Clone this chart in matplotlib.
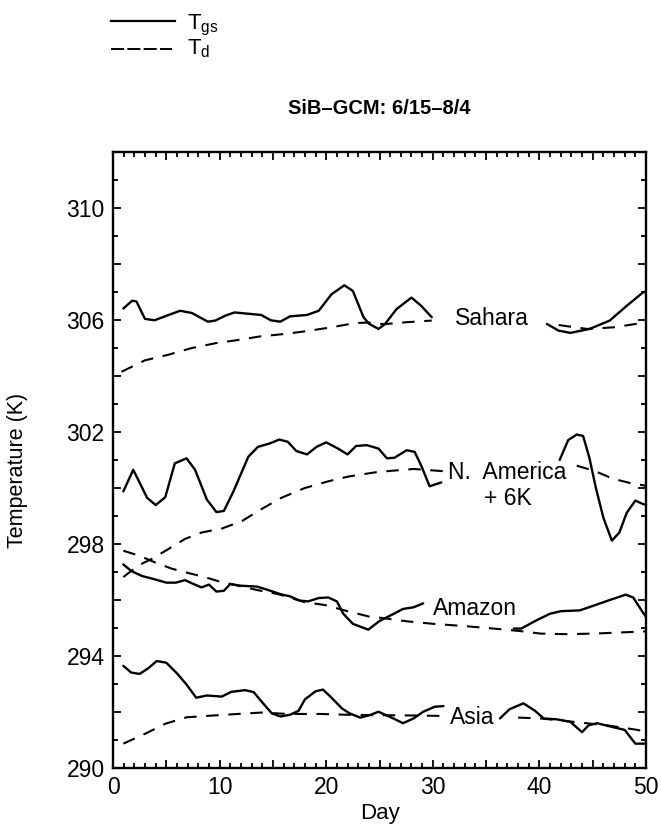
import numpy as np
import matplotlib
matplotlib.use("Agg")
import matplotlib.pyplot as plt
from matplotlib.lines import Line2D
from matplotlib.ticker import MultipleLocator, FuncFormatter

plt.rcParams['font.family'] = ['Liberation Sans', 'DejaVu Sans']
plt.rcParams['mathtext.fontset'] = 'custom'
plt.rcParams['mathtext.rm'] = 'Liberation Sans'

nan = np.nan

# Ground/surface temperature T_gs and deep soil temperature T_d (K) per region.
# nan splits a series into separate segments.
sahara_tgs_day = [0.97, 1.8, 2.2, 3.0, 3.9, 5.0, 6.3, 7.4, 8.9, 9.6, 10.5, 11.4, 13.9, 14.8,
                  15.7, 16.6, 18.2, 19.3, 20.5, 21.7, 22.5, 23.5, 24.0, 24.9, 25.5, 26.6,
                  28.0, 28.9, 29.9, nan, 40.7, 41.8, 42.9, 44.7, 46.6, 48.2, 49.7, 50.0]
sahara_tgs = [306.41, 306.69, 306.66, 306.04, 305.99, 306.15, 306.33, 306.25, 305.94, 305.98,
              306.15, 306.27, 306.18, 305.99, 305.94, 306.13, 306.18, 306.33, 306.92, 307.24,
              307.04, 306.10, 305.87, 305.68, 305.85, 306.39, 306.80, 306.51, 306.10, nan,
              305.86, 305.62, 305.54, 305.68, 305.98, 306.51, 306.98, 307.02]
sahara_td_day = [0.8, 3.0, 5.2, 7.4, 9.6, 11.8, 13.9, 16.1, 18.3, 20.5, 22.7, 24.0, 25.4,
                 27.5, 29.9, nan, 41.8, 44.5, 47.0, 49.4, 50.0]
sahara_td = [304.15, 304.56, 304.76, 305.00, 305.17, 305.29, 305.42, 305.50, 305.61, 305.74,
             305.89, 305.91, 305.85, 305.92, 305.98, nan, 305.82, 305.68, 305.74, 305.88, 305.92]

# N. America values are shifted up by 6 K
namer_tgs_day = [0.97, 1.9, 3.2, 4.0, 4.9, 5.8, 6.9, 7.7, 8.8, 9.7, 10.4, 11.3, 12.7, 13.6,
                 14.7, 15.6, 16.4, 17.2, 18.2, 19.1, 20.0, 21.1, 22.0, 22.8, 23.8, 24.9,
                 25.7, 26.4, 27.55, 28.3, 28.96, 29.7, 30.8, nan, 41.9, 42.7, 43.5, 44.1,
                 44.7, 45.3, 46.0, 46.8, 47.5, 48.2, 49.0, 49.7, 50.0]
namer_tgs = [299.88, 300.65, 299.65, 299.39, 299.67, 300.88, 301.06, 300.65, 299.59, 299.14,
             299.18, 299.88, 301.12, 301.47, 301.59, 301.73, 301.65, 301.32, 301.20, 301.47,
             301.63, 301.41, 301.20, 301.50, 301.53, 301.41, 301.06, 301.08, 301.35, 301.29,
             300.76, 300.06, 300.20, nan, 301.00, 301.71, 301.91, 301.86, 301.06, 300.00,
             298.94, 298.12, 298.41, 299.12, 299.55, 299.43, 299.40]
namer_td_day = [0.97, 2.4, 3.65, 5.2, 6.75, 8.3, 10.2, 12.1, 13.9, 15.8, 18.0, 20.2, 22.1,
                24.6, 26.0, 28.2, 31.0, nan, 43.5, 45.3, 46.9, 48.5, 50.0]
namer_td = [296.82, 297.24, 297.47, 297.82, 298.18, 298.41, 298.55, 298.82, 299.24, 299.65,
            300.00, 300.24, 300.41, 300.56, 300.61, 300.68, 300.60, nan, 300.80, 300.59,
            300.33, 300.18, 300.08]

amazon_tgs_day = [0.97, 1.7, 2.7, 3.9, 5.0, 5.9, 6.75, 7.5, 8.3, 9.0, 9.7, 10.4, 11.0, 12.0,
                  13.5, 14.6, 15.7, 16.6, 17.5, 18.3, 19.3, 20.2, 21.0, 21.6, 22.5, 23.95,
                  25.0, 26.3, 27.2, 28.2, 29.1, nan, 37.6, 38.3, 39.7, 41.0, 42.0, 43.8,
                  45.1, 46.6, 48.1, 48.8, 49.7, 50.0]
amazon_tgs = [297.27, 297.04, 296.86, 296.74, 296.62, 296.62, 296.71, 296.58, 296.45, 296.55,
              296.30, 296.33, 296.57, 296.51, 296.48, 296.35, 296.21, 296.13, 295.98, 295.95,
              296.07, 296.09, 295.95, 295.51, 295.15, 294.94, 295.25, 295.50, 295.68, 295.74,
              295.88, nan, 294.98, 294.98, 295.27, 295.51, 295.60, 295.63, 295.80, 296.00,
              296.19, 296.09, 295.56, 295.40]
amazon_td_day = [0.97, 2.4, 3.9, 5.5, 7.1, 8.6, 9.9, 13.6, 15.5, 18.0, 19.9, 21.8, 24.0, 25.0,
                 27.55, 30.0, 32.9, 35.7, 38.2, 40.1, 42.6, 45.1, 47.6, 50.0]
amazon_td = [297.76, 297.59, 297.35, 297.12, 296.96, 296.82, 296.67, 296.35, 296.21, 295.92,
             295.82, 295.62, 295.41, 295.37, 295.24, 295.15, 295.07, 294.98, 294.89, 294.80,
             294.78, 294.80, 294.84, 294.88]

asia_tgs_day = [0.97, 1.7, 2.5, 3.3, 4.1, 5.0, 6.0, 6.9, 7.8, 8.8, 10.2, 11.1, 12.4, 13.2,
                13.9, 14.9, 15.7, 16.6, 17.4, 18.0, 19.0, 19.7, 20.5, 21.5, 22.2, 23.2, 24.1,
                24.9, 26.3, 27.2, 28.2, 29.1, 30.2, 31.0, nan, 36.3, 37.2, 38.5, 39.6, 40.4,
                41.6, 42.9, 44.0, 44.6, 45.4, 46.9, 48.0, 49.0, 50.0]
asia_tgs = [293.65, 293.41, 293.36, 293.56, 293.82, 293.76, 293.38, 292.98, 292.51, 292.59,
            292.55, 292.72, 292.78, 292.71, 292.39, 291.95, 291.84, 291.90, 292.04, 292.45,
            292.74, 292.80, 292.51, 292.12, 291.95, 291.80, 291.89, 292.01, 291.77, 291.60,
            291.77, 292.01, 292.19, 292.21, nan, 291.77, 292.10, 292.31, 292.04, 291.77,
            291.74, 291.65, 291.28, 291.52, 291.60, 291.46, 291.36, 290.87, 290.87]
asia_td_day = [0.97, 3.0, 4.9, 6.9, 9.2, 11.7, 13.9, 16.4, 19.5, 22.0, 24.2, 27.0, 31.0, nan,
               38.0, 40.1, 43.9, 46.4, 49.2, 50.0]
asia_td = [290.87, 291.22, 291.58, 291.81, 291.87, 291.93, 291.98, 291.93, 291.93, 291.90,
           291.89, 291.88, 291.86, nan, 291.80, 291.77, 291.62, 291.52, 291.36, 291.30]

# region name, text position (day, K)
region_labels = [("Sahara", 35.5, 306.04),
                 ("N.  America", 37.0, 300.55),
                 ("+ 6K", 37.05, 299.64),
                 ("Amazon", 34.0, 295.68),
                 ("Asia", 33.65, 291.81)]

W, H = 661, 836
fig = plt.figure(figsize=(W / 100, H / 100), dpi=100)
ax = fig.add_axes([113 / W, 1 - 768 / H, 533 / W, 616 / H])

solid_kw = dict(color='black', lw=1.7, solid_capstyle='round', solid_joinstyle='round')
dash_kw = dict(color='black', lw=1.5, dashes=(6, 4.6))

ax.plot(sahara_tgs_day, sahara_tgs, **solid_kw)
ax.plot(sahara_td_day, sahara_td, **dash_kw)
ax.plot(namer_tgs_day, namer_tgs, **solid_kw)
ax.plot(namer_td_day, namer_td, **dash_kw)
ax.plot(amazon_tgs_day, amazon_tgs, **solid_kw)
ax.plot(amazon_td_day, amazon_td, **dash_kw)
ax.plot(asia_tgs_day, asia_tgs, **solid_kw)
ax.plot(asia_td_day, asia_td, **dash_kw)

for name, d, t in region_labels:
    ax.text(d, t, name, ha='center', va='center', fontsize=16.5)

ax.set_xlim(0, 50)
ax.set_ylim(290, 312)

ax.xaxis.set_major_locator(MultipleLocator(5))
ax.xaxis.set_minor_locator(MultipleLocator(1))
ax.yaxis.set_major_locator(MultipleLocator(2))
ax.yaxis.set_minor_locator(MultipleLocator(1))
ax.xaxis.set_major_formatter(FuncFormatter(lambda v, p: f"{v:.0f}" if round(v) % 10 == 0 else ""))
ax.yaxis.set_major_formatter(FuncFormatter(lambda v, p: f"{v:.0f}" if round(v - 290) % 4 == 0 else ""))
ax.tick_params(which='both', direction='in', top=True, right=True, labelsize=16.5, width=1.3, pad=6)
ax.tick_params(which='major', length=6)
ax.tick_params(which='minor', length=3.5)
for s in ax.spines.values():
    s.set_linewidth(1.7)

fig.text(18 / W, 1 - 470 / H, "Temperature (K)", rotation=90, ha='center', va='center', fontsize=15.5)
fig.text(380 / W, 1 - 813 / H, "Day", ha='center', va='center', fontsize=16)
fig.text(379 / W, 1 - 108 / H, "SiB–GCM: 6/15–8/4", ha='center', va='center',
         fontsize=14.5, fontweight='bold')

# key in the top-left corner
fig.add_artist(Line2D([111 / W, 175 / W], [1 - 21 / H] * 2, color='black', lw=1.6))
fig.add_artist(Line2D([111 / W, 172 / W], [1 - 49 / H] * 2, color='black', lw=1.4,
                      dashes=(6.7, 1.7)))
fig.text(187 / W, 1 - 29 / H, r"T$_\mathrm{gs}$", ha='left', va='baseline', fontsize=16)
fig.text(187 / W, 1 - 54 / H, r"T$_\mathrm{d}$", ha='left', va='baseline', fontsize=16)

fig.savefig("out.png", dpi=100)
